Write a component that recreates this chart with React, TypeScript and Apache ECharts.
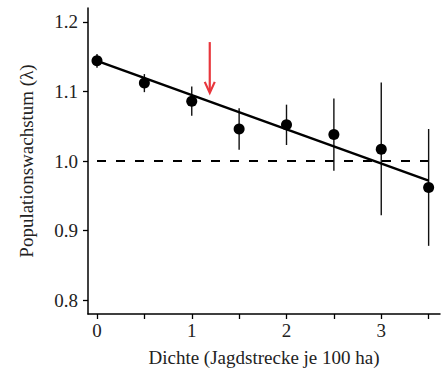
import React, { useEffect, useRef } from "react";
import * as echarts from "echarts";

const density = [0, 0.5, 1, 1.5, 2, 2.5, 3, 3.5];
const growth = [1.144, 1.112, 1.086, 1.046, 1.052, 1.038, 1.017, 0.962];
const errLow = [1.134, 1.099, 1.065, 1.016, 1.023, 0.986, 0.922, 0.878];
const errHigh = [1.154, 1.125, 1.107, 1.076, 1.081, 1.090, 1.113, 1.046];
const fitLine = [[0, 1.144], [3.5, 0.9717]];
const refLine = [[0, 1.0], [3.5, 1.0]];
const arrow = [[1.19, 1.171, 1.098]];
const xTicks = [0, 0.5, 1, 1.5, 2, 2.5, 3, 3.5];
const xLabels = [0, 1, 2, 3];
const yTicks = [0.8, 0.9, 1.0, 1.1, 1.2];

const FONT = "'Liberation Serif', serif";
const FS = 19;

export default function App() {
  const ref = useRef<HTMLDivElement>(null);
  useEffect(() => {
    const chart = echarts.init(ref.current!, null, { renderer: "svg" });
    const errData = density.map((d, i) => [d, errLow[i], errHigh[i]]);
    chart.setOption({
      animation: false,
      backgroundColor: "#fff",
      textStyle: { fontFamily: FONT },
      grid: { left: 88, right: 8, top: 8, bottom: 58, containLabel: false },
      xAxis: {
        type: "value",
        min: -0.095,
        max: 3.62,
        name: "Dichte (Jagdstrecke je 100 ha)",
        nameLocation: "middle",
        nameGap: 34,
        nameTextStyle: { fontFamily: FONT, fontSize: FS, color: "#222" },
        axisLine: { show: true, onZero: false, lineStyle: { color: "#000", width: 1.5 } },
        axisTick: { show: true, customValues: xTicks, length: 5, lineStyle: { color: "#000", width: 1.3 } },
        axisLabel: { customValues: xLabels, fontFamily: FONT, fontSize: FS, color: "#222", margin: 7 },
        splitLine: { show: false },
      },
      yAxis: {
        type: "value",
        min: 0.78,
        max: 1.22,
        name: "Populationswachstum (λ)",
        nameLocation: "middle",
        nameGap: 52,
        nameTextStyle: { fontFamily: FONT, fontSize: FS, color: "#222" },
        axisLine: { show: true, onZero: false, lineStyle: { color: "#000", width: 1.5 } },
        axisTick: { show: true, customValues: yTicks, length: 5, lineStyle: { color: "#000", width: 1.3 } },
        axisLabel: {
          customValues: yTicks,
          fontFamily: FONT,
          fontSize: FS,
          color: "#222",
          margin: 10,
          formatter: (v: number) => v.toFixed(1),
        },
        splitLine: { show: false },
      },
      series: [
        {
          type: "line",
          data: refLine,
          symbol: "none",
          lineStyle: { color: "#000", width: 2, type: [9, 10] },
          z: 1,
        },
        {
          type: "custom",
          data: errData,
          renderItem: (params: any, api: any) => {
            const x = api.value(0);
            const lo = api.coord([x, api.value(1)]);
            const hi = api.coord([x, api.value(2)]);
            return {
              type: "line",
              shape: { x1: lo[0], y1: lo[1], x2: hi[0], y2: hi[1] },
              style: { stroke: "#111", lineWidth: 1.4 },
            };
          },
          z: 2,
        },
        {
          type: "line",
          data: fitLine,
          symbol: "none",
          lineStyle: { color: "#000", width: 2.5 },
          z: 3,
        },
        {
          type: "scatter",
          data: density.map((d, i) => [d, growth[i]]),
          symbol: "circle",
          symbolSize: 11,
          itemStyle: { color: "#000", opacity: 1 },
          z: 4,
        },
        {
          type: "custom",
          data: arrow,
          renderItem: (params: any, api: any) => {
            const x = api.value(0);
            const top = api.coord([x, api.value(1)]);
            const tip = api.coord([x, api.value(2)]);
            return {
              type: "group",
              children: [
                {
                  type: "line",
                  shape: { x1: top[0], y1: top[1], x2: tip[0], y2: tip[1] - 1 },
                  style: { stroke: "#e8363c", lineWidth: 2.2 },
                },
                {
                  type: "polyline",
                  shape: { points: [[tip[0] - 5, tip[1] - 11], [tip[0], tip[1]], [tip[0] + 5, tip[1] - 11]] },
                  style: { stroke: "#e8363c", lineWidth: 2.2, fill: "none" },
                },
              ],
            };
          },
          z: 5,
        },
      ],
    });
    return () => chart.dispose();
  }, []);
  return (
    <div
      ref={ref}
      style={{ position: "fixed", left: 0, top: 0, width: 448, height: 372, background: "#fff" }}
    />
  );
}
